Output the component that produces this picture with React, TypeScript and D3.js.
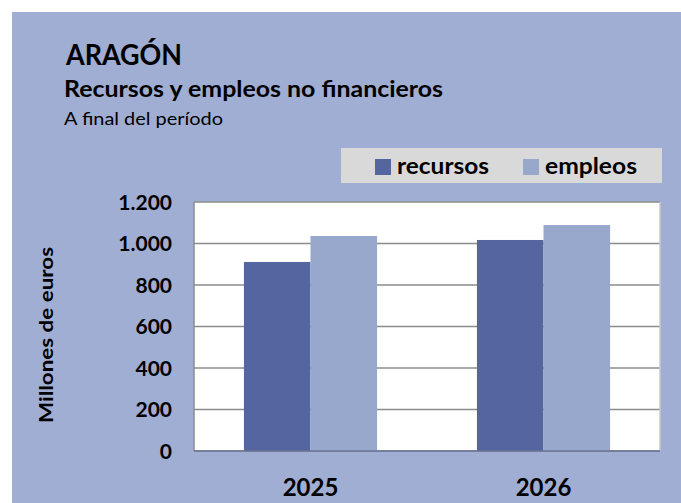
import * as d3 from "d3";

const years = ["2025", "2026"];
const seriesNames = ["recursos", "empleos"];
const recursos = [911, 1017];
const empleos = [1036, 1089];
const yTicks = [0, 200, 400, 600, 800, 1000, 1200];

const COLORS: Record<string, string> = {
  recursos: "#5565A0",
  empleos: "#98A7CC",
};

const W = 681;
const H = 503;
const FONT = "Lato, 'Open Sans', sans-serif";
const plot = { left: 194, right: 660, top: 202, bottom: 451 };

// thousands separator as in the Spanish original
const fmt = (v: number) => d3.format(",")(v).replace(/,/g, ".");

export default function App() {
  const x = d3.scaleBand<string>().domain(years).range([plot.left, plot.right]);
  const inner = d3.scaleBand<string>().domain(seriesNames).range([0, x.bandwidth()]).paddingOuter(0.75);
  const y = d3.scaleLinear().domain([0, 1200]).range([plot.bottom, plot.top]);

  const rows = years.map((yr, i) => ({ year: yr, recursos: recursos[i], empleos: empleos[i] }));

  return (
    <svg width={W} height={H} style={{ position: "absolute", left: 0, top: 0, fontFamily: FONT }}>
      <rect x={0} y={0} width={W} height={H} fill="#ffffff" />
      <rect x={12} y={12} width={W - 12} height={H - 12} fill="#A0AED3" />

      <text x={66} y={65} fontSize={28} fontWeight="bold" textLength={116} lengthAdjust="spacingAndGlyphs">ARAGÓN</text>
      <text x={64} y={97} fontSize={23} fontWeight="bold" textLength={379} lengthAdjust="spacingAndGlyphs">Recursos y empleos no financieros</text>
      <text x={64} y={125} fontSize={18} textLength={159} lengthAdjust="spacingAndGlyphs">A final del período</text>

      {/* legend */}
      <rect x={341} y={148} width={321} height={35} fill="#D9D9D9" />
      <rect x={375} y={159} width={16} height={16} fill={COLORS.recursos} />
      <text x={397} y={174} fontSize={23} fontWeight="bold" textLength={92} lengthAdjust="spacingAndGlyphs">recursos</text>
      <rect x={523} y={159} width={16} height={16} fill={COLORS.empleos} />
      <text x={545} y={174} fontSize={23} fontWeight="bold" textLength={92} lengthAdjust="spacingAndGlyphs">empleos</text>

      {/* plot area */}
      <rect x={plot.left} y={plot.top} width={plot.right - plot.left} height={plot.bottom - plot.top} fill="#ffffff" />
      {yTicks.map((t) => (
        <line key={t} x1={plot.left} x2={plot.right} y1={y(t)} y2={y(t)} stroke="#8C8C8C" strokeWidth={1.5} />
      ))}
      <line x1={plot.right} x2={plot.right} y1={plot.top} y2={plot.bottom} stroke="#C8C8C8" strokeWidth={1.5} />

      {rows.map((r) =>
        seriesNames.map((s) => {
          const v = (r as any)[s] as number;
          return (
            <rect
              key={r.year + s}
              x={(x(r.year) ?? 0) + (inner(s) ?? 0)}
              y={y(v)}
              width={inner.bandwidth()}
              height={plot.bottom - y(v)}
              fill={COLORS[s]}
            />
          );
        })
      )}

      <line x1={plot.left} x2={plot.left} y1={plot.top} y2={plot.bottom} stroke="#8C8C8C" strokeWidth={1.5} />
      <line x1={plot.left} x2={plot.right} y1={plot.bottom} y2={plot.bottom} stroke="#6A7597" strokeWidth={1.5} />

      {yTicks.map((t) => (
        <text key={t} x={172} y={y(t) + 7.5} textAnchor="end" fontSize={21} fontWeight="bold">{fmt(t)}</text>
      ))}
      <text transform={`translate(53,335) rotate(-90)`} textAnchor="middle" fontSize={19} fontWeight="bold" textLength={176} lengthAdjust="spacingAndGlyphs">Millones de euros</text>

      {years.map((yr) => (
        <text key={yr} x={(x(yr) ?? 0) + x.bandwidth() / 2} y={496} textAnchor="middle" fontSize={24} fontWeight="bold">{yr}</text>
      ))}
    </svg>
  );
}
